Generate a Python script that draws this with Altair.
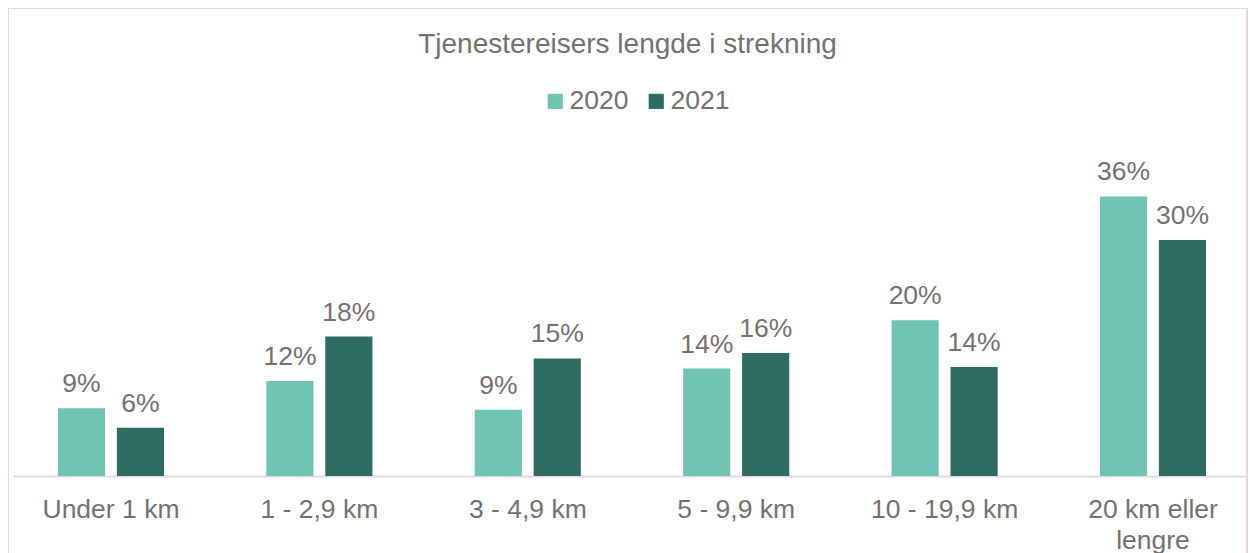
import altair as alt
import pandas as pd

categories = ["Under 1 km", "1 - 2,9 km", "3 - 4,9 km", "5 - 9,9 km", "10 - 19,9 km", "20 km eller lengre"]
years = ["2020", "2021"]
v2020 = [0.087, 0.122, 0.085, 0.138, 0.200, 0.359]
v2021 = [0.062, 0.179, 0.151, 0.158, 0.140, 0.303]

rows = []
for c, a, b in zip(categories, v2020, v2021):
    rows.append({"kategori": c, "år": "2020", "andel": a})
    rows.append({"kategori": c, "år": "2021", "andel": b})
df = pd.DataFrame(rows)

W, H = 1239, 338
PT, PB = 130, 77
TXT = "#767171"
BORDER = "#E6D7DD"
FONT = "Liberation Sans"
FS = 26.5

color = alt.Color("år:N", scale=alt.Scale(domain=years, range=["#71C4B3", "#2E6B61"]),
                  legend=alt.Legend(orient="none", direction="horizontal", legendX=534, legendY=-50,
                                    title=None, symbolType="square", symbolSize=230,
                                    symbolStrokeWidth=0, labelFontSize=FS, labelFont=FONT,
                                    labelColor=TXT, columnPadding=14, labelOffset=1))

x = alt.X("kategori:N", sort=categories, title=None,
          scale=alt.Scale(paddingInner=0.491, paddingOuter=0.218, range=[4.5, W + 4.5]),
          axis=alt.Axis(labelAngle=0, labelFontSize=FS, labelFont=FONT, labelColor=TXT,
                        ticks=False, domainColor=BORDER, domainWidth=2, labelPadding=20,
                        labelLineHeight=31,
                        labelExpr="datum.value == '20 km eller lengre' ? ['20 km eller', 'lengre'] : datum.value"))
y = alt.Y("andel:Q", scale=alt.Scale(domain=[0, 0.434], nice=False), axis=None)
xo = alt.XOffset("år:N", sort=years, scale=alt.Scale(paddingInner=0.2, paddingOuter=0))

base = alt.Chart(df)
bars = base.mark_bar().encode(x=x, y=y, xOffset=xo, color=color)
labels = base.mark_text(dy=-16, baseline="alphabetic", fontSize=FS, font=FONT, color=TXT).encode(
    x=x, y=y, xOffset=xo, text=alt.Text("andel:Q", format=".0%"))

one = pd.DataFrame({"k": [0]})
left = alt.Chart(one).mark_rule(color=BORDER, strokeWidth=2).encode(
    x=alt.value(0), y=alt.value(-PT), y2=alt.value(H + PB))
right = alt.Chart(one).mark_rule(color=BORDER, strokeWidth=2).encode(
    x=alt.value(W), y=alt.value(-PT), y2=alt.value(H + PB))
top = alt.Chart(one).mark_rule(color=BORDER, strokeWidth=2).encode(
    x=alt.value(0), x2=alt.value(W), y=alt.value(-PT))

chart = alt.layer(bars, labels, left, right, top).properties(
    width=W, height=H,
    title=alt.TitleParams("Tjenestereisers lengde i strekning", anchor="middle", fontSize=28,
                          font=FONT, color=TXT, fontWeight="normal", offset=-52),
    autosize=alt.AutoSizeParams(type="none"),
    padding={"left": 0, "top": PT, "right": 1, "bottom": PB},
).configure(background="white").configure_view(stroke=None)

chart.save("out.html", embed_options={"renderer": "svg", "actions": False})
